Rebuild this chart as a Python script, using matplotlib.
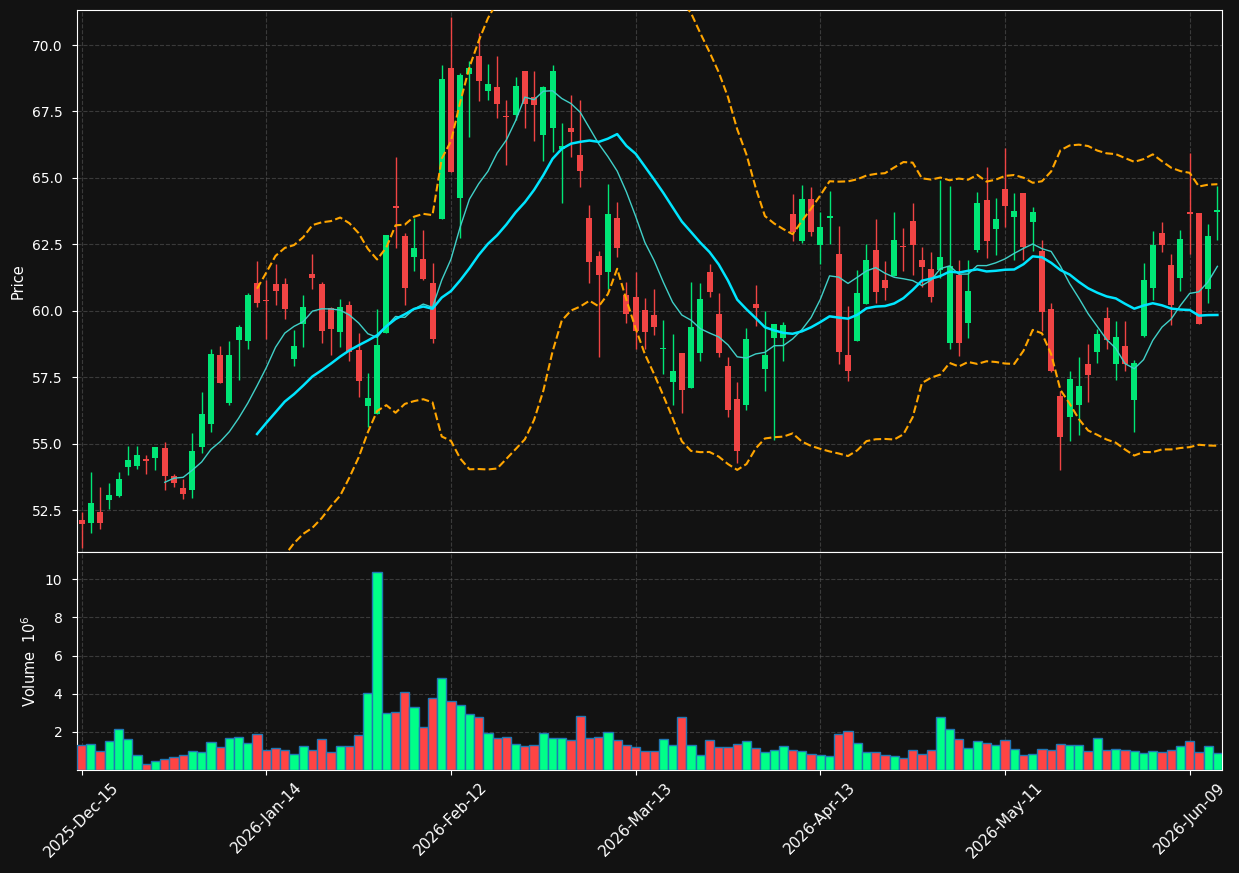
import matplotlib
matplotlib.use("Agg")
import matplotlib.pyplot as plt
import numpy as np
import pandas as pd

opens = [52.11, 52.01, 52.44, 52.86, 53.02, 54.11, 54.15, 54.43, 54.45, 54.84,
         53.77, 53.34, 53.25, 54.86, 55.74, 58.35, 56.53, 58.89, 58.87, 61.06,
         60.40, 60.99, 60.99, 58.20, 59.51, 61.38, 61.02, 60.09, 59.21, 60.20,
         58.53, 56.40, 56.13, 59.17, 63.95, 62.80, 62.02, 61.96, 61.06, 63.44,
         69.12, 64.25, 68.91, 69.59, 68.28, 68.44, 67.32, 67.38, 69.01, 68.05,
         66.63, 66.89, 66.07, 66.87, 65.88, 63.48, 62.07, 61.46, 63.48, 60.61,
         60.50, 60.01, 59.83, 58.55, 57.30, 58.42, 57.09, 58.40, 61.44, 59.86,
         57.93, 56.66, 56.47, 60.24, 57.82, 58.98, 58.98, 63.63, 62.62, 64.19,
         62.47, 63.50, 62.15, 58.35, 58.85, 60.24, 62.30, 61.17, 61.29, 62.45,
         63.37, 61.92, 61.57, 61.53, 58.80, 61.36, 59.55, 62.28, 64.15, 63.09,
         64.57, 63.52, 64.42, 63.33, 62.26, 60.05, 56.81, 56.00, 56.45, 58.01,
         58.44, 59.71, 57.99, 58.68, 56.64, 59.04, 60.86, 62.92, 61.74, 61.23,
         63.72, 63.67, 60.82, 63.72]
highs = [52.42, 53.92, 53.36, 53.51, 53.92, 54.90, 54.90, 54.58, 54.88, 55.05,
         53.85, 53.66, 55.40, 56.94, 58.57, 58.66, 58.87, 59.47, 60.67, 61.89,
         61.14, 61.76, 61.23, 59.26, 60.58, 62.13, 61.08, 60.16, 60.46, 60.35,
         59.17, 57.67, 60.07, 62.84, 65.78, 62.92, 63.48, 63.05, 61.79, 69.25,
         71.07, 68.93, 69.40, 70.45, 69.29, 69.59, 67.94, 68.80, 69.01, 69.04,
         68.46, 69.25, 67.08, 68.13, 67.94, 63.99, 62.24, 64.77, 64.08, 61.08,
         61.44, 60.48, 60.82, 59.64, 59.11, 58.42, 61.08, 61.04, 61.76, 60.67,
         58.27, 57.32, 59.36, 60.97, 59.99, 59.51, 59.56, 64.38, 64.75, 64.66,
         63.72, 64.51, 63.20, 60.18, 61.53, 62.52, 63.44, 61.87, 63.72, 63.12,
         64.04, 62.41, 62.22, 64.92, 64.70, 61.91, 61.91, 64.47, 65.41, 64.25,
         66.12, 64.44, 64.42, 63.89, 62.67, 60.31, 56.98, 57.75, 58.25, 58.76,
         59.32, 60.14, 59.60, 59.60, 58.16, 61.79, 62.99, 63.35, 62.13, 63.05,
         65.92, 63.67, 63.27, 64.70]
lows = [51.08, 51.64, 51.79, 52.52, 53.00, 53.83, 54.05, 53.87, 54.02, 53.27,
        53.38, 52.93, 52.97, 54.64, 55.42, 57.28, 56.47, 57.41, 58.57, 60.16,
        58.94, 60.22, 59.68, 57.91, 58.63, 60.82, 58.80, 58.35, 58.63, 58.12,
        56.75, 55.61, 56.13, 59.17, 62.37, 60.20, 61.51, 61.14, 58.80, 63.44,
        65.22, 62.73, 66.53, 67.88, 67.94, 67.25, 65.50, 67.19, 66.87, 66.40,
        65.63, 65.97, 64.06, 65.78, 64.66, 61.06, 58.25, 60.82, 62.04, 59.53,
        58.57, 58.57, 59.08, 57.63, 56.47, 56.17, 57.09, 58.12, 60.50, 58.27,
        56.00, 54.26, 56.28, 59.43, 56.98, 55.14, 58.12, 62.62, 62.56, 62.80,
        61.77, 62.52, 57.99, 57.35, 58.85, 60.24, 60.29, 60.41, 61.29, 61.51,
        61.34, 60.91, 60.33, 61.25, 58.57, 58.29, 58.98, 62.22, 61.98, 62.11,
        63.14, 61.92, 61.92, 62.26, 59.23, 57.71, 54.02, 55.09, 55.33, 56.58,
        58.05, 58.55, 57.41, 57.73, 55.42, 59.00, 60.39, 62.21, 59.47, 60.74,
        62.13, 59.49, 60.31, 62.66]
closes = [51.98, 52.76, 52.01, 53.08, 53.66, 54.37, 54.58, 54.34, 54.88, 53.77,
          53.53, 53.10, 54.73, 56.13, 58.38, 57.28, 58.35, 59.38, 60.61, 60.29,
          60.35, 60.76, 60.05, 58.68, 60.16, 61.23, 59.23, 59.32, 60.16, 58.46,
          57.35, 56.70, 58.70, 62.84, 63.87, 60.87, 62.37, 61.19, 58.94, 68.71,
          65.22, 68.86, 69.12, 68.65, 68.54, 67.77, 67.28, 68.46, 67.79, 67.75,
          68.41, 69.04, 66.20, 66.74, 65.26, 61.85, 61.34, 63.63, 62.36, 59.88,
          59.25, 59.21, 59.39, 58.57, 57.75, 57.02, 59.38, 60.46, 60.71, 58.40,
          56.27, 54.71, 58.94, 60.11, 58.35, 59.51, 59.45, 62.95, 64.19, 62.95,
          63.14, 63.54, 58.46, 57.75, 60.65, 61.92, 60.69, 60.84, 62.66, 62.39,
          62.47, 61.66, 60.52, 62.04, 61.70, 58.80, 60.73, 64.04, 62.64, 63.44,
          63.95, 63.74, 62.39, 63.70, 59.94, 57.75, 55.24, 57.45, 57.15, 57.58,
          59.11, 58.89, 59.00, 57.99, 58.03, 61.14, 62.49, 62.47, 60.20, 62.69,
          63.63, 59.49, 62.80, 63.78]
volumes = [1.32, 1.38, 1.01, 1.53, 2.16, 1.64, 0.81, 0.34, 0.49, 0.60,
           0.70, 0.81, 1.01, 0.96, 1.48, 1.22, 1.69, 1.74, 1.43, 1.90,
           1.06, 1.17, 1.06, 0.86, 1.27, 1.06, 1.64, 0.96, 1.27, 1.27,
           1.84, 4.03, 10.39, 2.99, 3.04, 4.08, 3.30, 2.26, 3.77, 4.81,
           3.61, 3.40, 2.94, 2.78, 1.95, 1.69, 1.74, 1.38, 1.27, 1.32,
           1.95, 1.69, 1.69, 1.58, 2.83, 1.69, 1.74, 2.00, 1.58, 1.32,
           1.22, 1.01, 1.01, 1.64, 1.32, 2.78, 1.32, 0.81, 1.58, 1.22,
           1.22, 1.38, 1.53, 1.17, 0.96, 1.06, 1.27, 1.06, 1.01, 0.86,
           0.81, 0.75, 1.90, 2.05, 1.43, 0.96, 0.96, 0.81, 0.75, 0.65,
           1.06, 0.86, 1.06, 2.78, 2.16, 1.64, 1.17, 1.53, 1.43, 1.32,
           1.58, 1.12, 0.81, 0.86, 1.12, 1.06, 1.38, 1.32, 1.32, 1.01,
           1.69, 1.06, 1.12, 1.06, 1.01, 0.91, 1.01, 0.96, 1.06, 1.27,
           1.53, 0.96, 1.27, 0.91]
tick_positions = [0, 20, 40, 60, 80, 100, 120]
tick_labels = ["2025-Dec-15", "2026-Jan-14", "2026-Feb-12", "2026-Mar-13",
               "2026-Apr-13", "2026-May-11", "2026-Jun-09"]

BG = "#121212"
UP = "#00e676"
DOWN = "#f04444"
VUP = "#00ff88"
VDOWN = "#ff4444"

o = np.array(opens); h = np.array(highs); l = np.array(lows); c = np.array(closes)
v = np.array(volumes)
x = np.arange(len(c))
up = c >= o

close_s = pd.Series(c)
ma10 = close_s.rolling(10).mean()
ma20 = close_s.rolling(20).mean()
sd20 = close_s.rolling(20).std()
bb_up = ma20 + 2 * sd20
bb_lo = ma20 - 2 * sd20

fig = plt.figure(figsize=(12.39, 8.73), dpi=100, facecolor=BG)
W, H = 1239, 873
ax = fig.add_axes([77 / W, 1 - 552 / H, (1222 - 77) / W, (552 - 10) / H])
axv = fig.add_axes([77 / W, 1 - 770 / H, (1222 - 77) / W, (770 - 552) / H], sharex=ax)

for a in (ax, axv):
    a.set_facecolor(BG)
    for s in a.spines.values():
        s.set_color("white")
    a.tick_params(colors="white", labelsize=10)
    a.tick_params(axis="y", pad=7)
    a.grid(True, color="#555555", linestyle="--", linewidth=0.8, alpha=0.6)
    a.set_axisbelow(True)

cols = np.where(up, UP, DOWN)
ax.vlines(x, l, h, colors=cols, linewidth=1, zorder=2)
body = np.maximum(np.abs(c - o), 0.05)
ax.bar(x, body, bottom=np.minimum(o, c), width=0.65, color=cols, zorder=3)

ax.plot(x, ma10, color="#40d0c8", linewidth=1.0, zorder=4)
ax.plot(x, ma20, color="#00e5ff", linewidth=1.8, zorder=4)
ax.plot(x, bb_up, color="#ffa500", linestyle="--", linewidth=1.5, zorder=4)
ax.plot(x, bb_lo, color="#ffa500", linestyle="--", linewidth=1.5, zorder=4)

ax.set_ylim(50.92, 71.32)
ax.set_xlim(-0.5, len(c) - 0.5)
ax.set_ylabel("Price", color="white", fontsize=10.5)
ax.tick_params(axis="x", labelbottom=False)

vcols = np.where(up, VUP, VDOWN)
axv.bar(x, v, width=1.0, color=vcols, edgecolor="#1f77b4", linewidth=1.0, zorder=3)
axv.set_ylim(0, v.max() * 1.1)
axv.set_yticks([2, 4, 6, 8, 10])
axv.set_ylabel("Volume  $10^6$", color="white", fontsize=10.5)
axv.set_xticks(tick_positions)
axv.set_xticklabels(tick_labels, rotation=45, ha="center", fontsize=11)

fig.savefig("out.png", dpi=100, facecolor=BG)
